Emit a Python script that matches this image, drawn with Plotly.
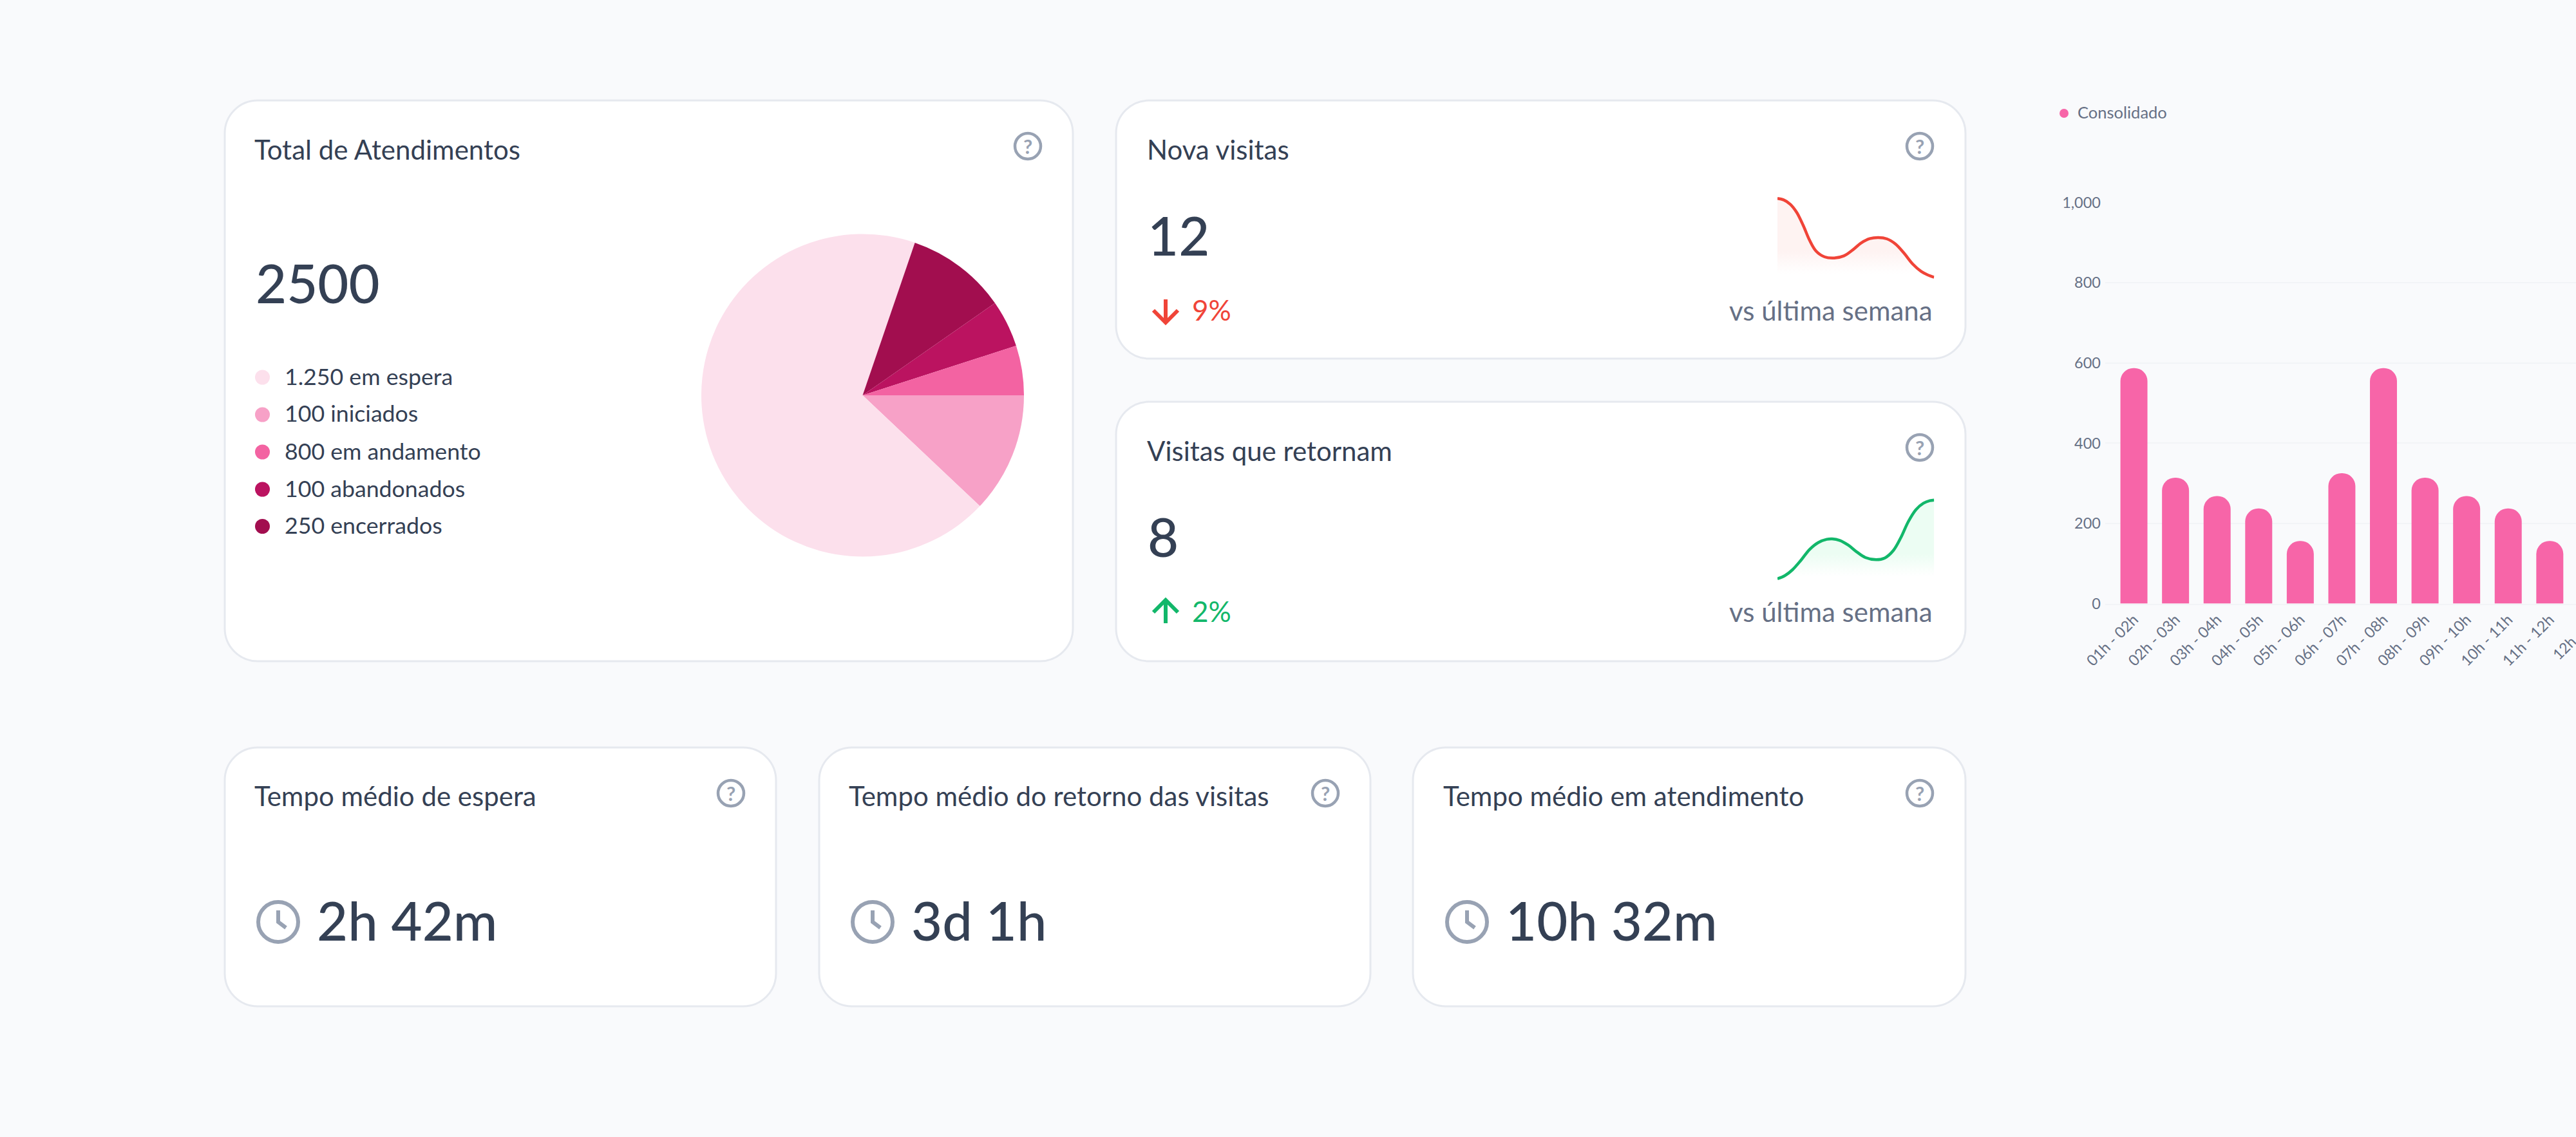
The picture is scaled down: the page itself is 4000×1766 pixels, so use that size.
import plotly.graph_objects as go

W, H = 4000, 1766

# ---- data ----
pie_labels = ["100 iniciados", "1.250 em espera", "250 encerrados", "100 abandonados", "800 em andamento"]
pie_values = [12.05, 68.2, 10.06, 4.72, 4.97]
pie_colors = ["#F7A1C7", "#FCE0EC", "#A20E4F", "#BB1360", "#F363A2"]

legend_items = ["1.250 em espera", "100 iniciados", "800 em andamento", "100 abandonados", "250 encerrados"]
legend_colors = ["#FCE0EC", "#F7A1C7", "#F363A2", "#BB1360", "#A20E4F"]

hours = ["01h - 02h", "02h - 03h", "03h - 04h", "04h - 05h", "05h - 06h", "06h - 07h",
         "07h - 08h", "08h - 09h", "09h - 10h", "10h - 11h", "11h - 12h", "12h - 13h"]
consolidado = [587, 314, 268, 237, 156, 325, 587, 314, 268, 237, 156, 325]
y_ticks = [0, 200, 400, 600, 800, 1000]

red_x = [0, 30, 60, 90, 120, 150, 180, 220, 265, 310, 350, 390, 430, 470, 510, 550, 590, 630, 670, 700, 730]
red_y = [415, 408, 388, 350, 290, 220, 170, 143, 138, 148, 175, 208, 228, 233, 227, 203, 160, 110, 75, 59, 48]
green_x = [0, 35, 70, 110, 150, 190, 230, 255, 290, 330, 370, 410, 460, 500, 540, 575, 610, 645, 680, 710, 730]
green_y = [53, 68, 95, 140, 190, 222, 237, 239, 232, 210, 178, 152, 142, 150, 185, 245, 320, 375, 405, 417, 420]

INK = "#344054"
MUTED = "#667085"
ICON = "#98A2B3"
RED = "#F04438"
GREEN = "#12B76A"
BG = "#F9FAFC"
FONT = "Lato"


def px(x):
    return x / W


def py(y):
    return 1 - y / H


shapes, annotations = [], []


def text(x, y, s, size, color=INK, anchor="left", weight=None, **kw):
    f = dict(family=FONT, size=size, color=color)
    if weight:
        f["weight"] = weight
    annotations.append(dict(x=px(x), y=py(y), xref="paper", yref="paper", text=s, showarrow=False,
                            xanchor=anchor, yanchor="middle", borderpad=0, font=f, **kw))


def card(x0, y0, x1, y1, r=51):
    k = r * 0.448
    X0, X1, Y0, Y1 = x0, x1, y0, y1
    pts = [
        ("M", [(X0 + r, Y0)]), ("L", [(X1 - r, Y0)]),
        ("C", [(X1 - k, Y0), (X1, Y0 + k), (X1, Y0 + r)]), ("L", [(X1, Y1 - r)]),
        ("C", [(X1, Y1 - k), (X1 - k, Y1), (X1 - r, Y1)]), ("L", [(X0 + r, Y1)]),
        ("C", [(X0 + k, Y1), (X0, Y1 - k), (X0, Y1 - r)]), ("L", [(X0, Y0 + r)]),
        ("C", [(X0, Y0 + k), (X0 + k, Y0), (X0 + r, Y0)]),
    ]
    d = " ".join(c + " " + " ".join(f"{px(a):.6f},{py(b):.6f}" for a, b in p) for c, p in pts) + " Z"
    shapes.append(dict(type="path", path=d, xref="paper", yref="paper", layer="below",
                       fillcolor="#FFFFFF", line=dict(color="#E6E9EF", width=3)))


def circle(cx, cy, r, fill="rgba(0,0,0,0)", line=None, width=0):
    shapes.append(dict(type="circle", xref="paper", yref="paper", x0=px(cx - r), x1=px(cx + r),
                       y0=py(cy + r), y1=py(cy - r), fillcolor=fill, layer="above",
                       line=dict(color=line or "rgba(0,0,0,0)", width=width)))


def stroke(points, color, width):
    d = "M " + " L ".join(f"{px(a):.6f},{py(b):.6f}" for a, b in points)
    shapes.append(dict(type="path", path=d, xref="paper", yref="paper", layer="above",
                       line=dict(color=color, width=width)))


def help_icon(cx, cy):
    circle(cx, cy, 20, line=ICON, width=4.5)
    text(cx, cy, "?", 31, ICON, anchor="center", weight=700)


def clock(cx, cy):
    circle(cx, cy, 31, line=ICON, width=6)
    stroke([(cx, cy - 18), (cx, cy), (cx + 12, cy + 9)], ICON, 6)


# ---- cards ----
card(349, 156, 1666, 1027)
card(1733, 156, 3052, 557)
card(1733, 624, 3052, 1027)
card(349, 1161, 1205, 1563)
card(1272, 1161, 2128, 1563)
card(2194, 1161, 3052, 1563)

# card: Total de Atendimentos
text(394, 232, "Total de Atendimentos", 42)
text(396, 439, "2500", 83, weight=500)
help_icon(1596, 227)
legend_y = [586, 644, 702, 760, 817.5]
for lab, col, ly in zip(legend_items, legend_colors, legend_y):
    circle(407.5, ly, 11.5, fill=col)
    text(441, ly - 2, lab, 35.7)

# card: Nova visitas
text(1780, 232, "Nova visitas", 42)
text(1781, 365, "12", 83, weight=500)
help_icon(2981, 227)
stroke([(1810, 465), (1810, 500)], RED, 6)
stroke([(1791, 482), (1810, 501), (1829, 482)], RED, 6)
text(1850, 481, "9%", 44, RED)
text(3002, 482, "vs última semana", 42, MUTED, anchor="right")

# card: Visitas que retornam
text(1780, 700, "Visitas que retornam", 42)
text(1781, 833, "8", 83, weight=500)
help_icon(2981, 695)
stroke([(1810, 968), (1810, 934)], GREEN, 6)
stroke([(1791, 951), (1810, 932), (1829, 951)], GREEN, 6)
text(1850, 949, "2%", 44, GREEN)
text(3002, 950, "vs última semana", 42, MUTED, anchor="right")

# bottom cards
for x_title, x_help, x_clock, x_val, title, val in [
    (394, 1135, 432, 491, "Tempo médio de espera", "2h 42m"),
    (1317, 2058, 1355, 1414, "Tempo médio do retorno das visitas", "3d 1h"),
    (2240, 2981, 2278, 2337, "Tempo médio em atendimento", "10h 32m"),
]:
    text(x_title, 1236, title, 42)
    help_icon(x_help, 1232)
    clock(x_clock, 1432)
    text(x_val, 1429, val, 83, weight=500)

# bar chart legend and cut-off label
circle(3205, 176, 7, fill="#F765A8")
text(3225, 174, "Consolidado", 25.5, MUTED)
text(4002.5, 985, hours[11], 23, MUTED, anchor="center", textangle=-45)

fig = go.Figure()

fig.add_trace(go.Pie(labels=pie_labels, values=pie_values, sort=False, direction="clockwise",
                     rotation=90, marker=dict(colors=pie_colors), textinfo="none", showlegend=False,
                     domain=dict(x=[px(1089), px(1590)], y=[py(864.5), py(363.5)])))

fig.add_trace(go.Scatter(x=red_x, y=red_y, mode="lines", xaxis="x", yaxis="y", showlegend=False,
                         line=dict(color=RED, width=4.5, shape="spline", smoothing=1),
                         fill="tozeroy",
                         fillgradient=dict(type="vertical", start=65, stop=170,
                                           colorscale=[[0, "rgba(254,243,242,0)"], [1, "rgba(254,243,242,1)"]])))

fig.add_trace(go.Scatter(x=green_x, y=green_y, mode="lines", xaxis="x2", yaxis="y2", showlegend=False,
                         line=dict(color=GREEN, width=4.5, shape="spline", smoothing=1),
                         fill="tozeroy",
                         fillgradient=dict(type="vertical", start=65, stop=170,
                                           colorscale=[[0, "rgba(236,253,243,0)"], [1, "rgba(236,253,243,1)"]])))

fig.add_trace(go.Bar(x=hours, y=consolidado, xaxis="x3", yaxis="y3", showlegend=False,
                     marker=dict(color="#F765A8", cornerradius="50%", line=dict(width=0)), width=0.65))

hidden = dict(visible=False, fixedrange=True, showgrid=False, zeroline=False)
fig.update_layout(
    width=W, height=H, margin=dict(l=0, r=0, t=0, b=0, pad=0, autoexpand=False),
    paper_bgcolor=BG, plot_bgcolor="rgba(0,0,0,0)",
    shapes=shapes, annotations=annotations, showlegend=False,
    font=dict(family=FONT, color=MUTED),
    xaxis=dict(domain=[px(2760), px(3003.3)], range=[0, 730], **hidden),
    yaxis=dict(domain=[py(446.67), py(280)], range=[0, 500], **hidden),
    xaxis2=dict(domain=[px(2760), px(3003.3)], range=[0, 730], **hidden),
    yaxis2=dict(domain=[py(916.67), py(750)], range=[0, 500], **hidden),
    xaxis3=dict(domain=[px(3269), 1], range=[-0.69, 10.63], type="category", anchor="y3",
                categoryorder="array", categoryarray=hours, tickmode="linear", dtick=1,
                tickangle=-45, showgrid=False, zeroline=False, showline=True, linecolor="#F2F4F7",
                linewidth=2, ticks="", tickfont=dict(family=FONT, size=23.5, color=MUTED)),
    yaxis3=dict(domain=[py(937.5), py(314.5)], range=[0, 1000], anchor="x3", tickvals=y_ticks,
                tickformat=",", showgrid=True, gridcolor="#F2F4F7", gridwidth=2, zeroline=False,
                showline=False, ticks="", ticklabelstandoff=6,
                tickfont=dict(family=FONT, size=23.5, color=MUTED)),
    bargap=0.35,
)

fig.write_html("out.html", config=dict(displayModeBar=False),
               post_script="document.body.style.margin='0';document.body.style.background='#F9FAFC';document.documentElement.style.overflow='hidden';")
